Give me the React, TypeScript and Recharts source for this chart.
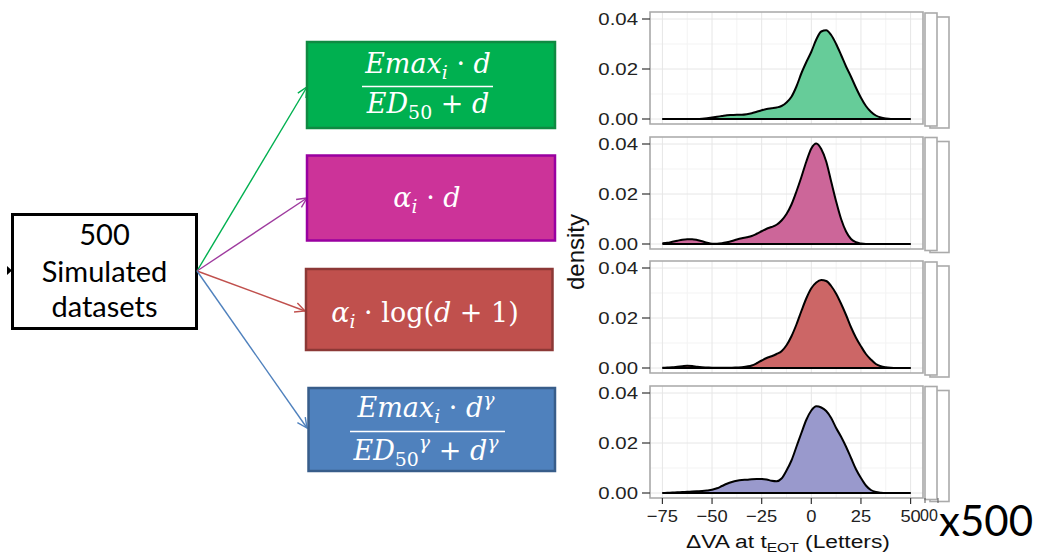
import React from 'react'
import { AreaChart, Area, XAxis, YAxis, CartesianGrid, ReferenceLine, ReferenceArea } from 'recharts'

// ΔVA at end of treatment (letters), density grid
const letters = [
  -75, -72.5, -70, -67.5, -65, -62.5, -60, -57.5, -55, -52.5, -50, -47.5, -45, -42.5, -40, -37.5, -35,
  -32.5, -30, -27.5, -25, -22.5, -20, -17.5, -15, -12.5, -10, -7.5, -5, -2.5, 0, 2.5, 5, 7.5, 10, 12.5,
  15, 17.5, 20, 22.5, 25, 27.5, 30, 32.5, 35, 37.5, 40, 42.5, 45, 47.5, 50,
]

const emaxDensity = [
  0, 0, 0, 0, 0, 0, 0, 0, 0.0001, 0.0003, 0.0006, 0.0009, 0.0012, 0.0015, 0.0016, 0.0017, 0.0017,
  0.0019, 0.0023, 0.0029, 0.0035, 0.004, 0.0043, 0.0046, 0.0052, 0.0066, 0.0089, 0.013, 0.0183, 0.0228,
  0.0269, 0.0318, 0.035, 0.0355, 0.0336, 0.03, 0.0256, 0.021, 0.0169, 0.0125, 0.0085, 0.0052, 0.0029,
  0.0014, 0.0006, 0.0002, 0, 0, 0, 0, 0,
]

const linearDensity = [
  0.0003, 0.0005, 0.0009, 0.0013, 0.0017, 0.0019, 0.0019, 0.0016, 0.0011, 0.0005, 0.0001, 0.0001, 0.0003,
  0.0007, 0.0012, 0.0018, 0.0023, 0.0027, 0.0032, 0.0041, 0.0051, 0.0061, 0.0068, 0.0077, 0.0094, 0.012,
  0.0158, 0.021, 0.0268, 0.033, 0.0382, 0.0402, 0.038, 0.033, 0.025, 0.017, 0.01, 0.005, 0.002, 0.0007,
  0.0002, 0, 0, 0, 0, 0, 0, 0, 0, 0, 0,
]

const logDensity = [
  0.0001, 0.0002, 0.0003, 0.0005, 0.0007, 0.0009, 0.0008, 0.0005, 0.0003, 0.0002, 0.0001, 0.0001, 0.0001,
  0.0001, 0.0001, 0.0002, 0.0003, 0.0006, 0.001, 0.0019, 0.003, 0.004, 0.0047, 0.0056, 0.0067, 0.0091,
  0.0127, 0.0174, 0.0228, 0.0279, 0.0319, 0.0342, 0.0352, 0.0348, 0.0328, 0.0297, 0.0257, 0.0212, 0.0163,
  0.0121, 0.0087, 0.0056, 0.0034, 0.0016, 0.0007, 0.0003, 0.0001, 0, 0, 0, 0,
]

const sigmoidDensity = [
  0, 0.0001, 0.0002, 0.0003, 0.0004, 0.0005, 0.0006, 0.0007, 0.0008, 0.001, 0.0013, 0.0019, 0.0028,
  0.0037, 0.0044, 0.0049, 0.0052, 0.0053, 0.0055, 0.0056, 0.0056, 0.0054, 0.0049, 0.0047, 0.0058, 0.009,
  0.013, 0.0185, 0.024, 0.0293, 0.033, 0.0347, 0.0342, 0.0328, 0.03, 0.026, 0.0225, 0.0185, 0.014,
  0.0095, 0.006, 0.003, 0.0012, 0.0004, 0.0001, 0, 0, 0, 0, 0, 0,
]

const xTicks = [-75, -50, -25, 0, 25, 50]
const xMinor = [-62.5, -37.5, -12.5, 12.5, 37.5]
const yTicks = [0, 0.02, 0.04]
const yMinor = [0.01, 0.03]

const rows = letters.map((x, i) => ({
  x,
  emax: emaxDensity[i],
  linear: linearDensity[i],
  log: logDensity[i],
  sigmoid: sigmoidDensity[i],
}))

const X_DOMAIN: [number, number] = [-81.25, 56.25]
const Y_DOMAIN: [number, number] = [-0.002, 0.0428]

const panels = [
  { key: 'emax', fill: '#66cc99', top: 12 },
  { key: 'linear', fill: '#cc6699', top: 136.5 },
  { key: 'log', fill: '#cc6666', top: 261 },
  { key: 'sigmoid', fill: '#9999cc', top: 385.5 },
]

const PANEL_H = 112
const PAD = 6
const AXIS_H = 32
const SANS = '"Liberation Sans", Arial, sans-serif'
const SERIF = '"DejaVu Serif", serif'

function YTick({ x, y, payload }: any) {
  return (
    <text transform={`translate(${x},${y}) scale(1.2,1)`} textAnchor="end" dy="0.36em"
      fontFamily={SANS} fontSize={17} fill="#222">
      {payload.value.toFixed(2)}
    </text>
  )
}

function XTick({ x, y, payload }: any) {
  const v = payload.value
  const label = v < 0 ? '\u2212' + Math.abs(v) : String(v)
  return (
    <text transform={`translate(${x},${y}) scale(1.08,1)`} textAnchor="middle" dy="0.71em"
      fontFamily={SANS} fontSize={17} fill="#222">
      {label}
    </text>
  )
}

function DensityPanel({ dataKey, fill, top, showAxis }: { dataKey: string; fill: string; top: number; showAxis: boolean }) {
  const height = PAD + PANEL_H + (showAxis ? AXIS_H : PAD)
  return (
    <div style={{ position: 'absolute', left: 580, top: top - PAD }}>
      <AreaChart width={345} height={height} data={rows}
        margin={{ top: PAD, right: 2, bottom: showAxis ? 0 : PAD, left: 0 }}>
        <CartesianGrid stroke="#f3f3f3" strokeWidth={1} verticalValues={xMinor} horizontalValues={yMinor} />
        <CartesianGrid stroke="#e6e6e6" strokeWidth={1} verticalValues={xTicks} horizontalValues={yTicks} />
        <XAxis type="number" dataKey="x" domain={X_DOMAIN} ticks={xTicks} hide={!showAxis} height={AXIS_H}
          axisLine={false} tickLine={{ stroke: '#333', strokeWidth: 1.2 }} tickSize={6} tickMargin={6}
          tick={<XTick />} allowDataOverflow />
        <YAxis type="number" domain={Y_DOMAIN} ticks={yTicks} width={70} axisLine={false}
          tickLine={{ stroke: '#333', strokeWidth: 1.2 }} tickSize={8} tickMargin={4} tick={<YTick />}
          allowDataOverflow />
        <Area type="monotone" dataKey={dataKey} baseValue={0} fill={fill} fillOpacity={1} stroke="#000"
          strokeWidth={2} dot={false} activeDot={false} isAnimationActive={false} />
        <ReferenceLine segment={[{ x: -75, y: 0 }, { x: 50, y: 0 }]} stroke="#000" strokeWidth={2} />
        <ReferenceArea x1={X_DOMAIN[0]} x2={X_DOMAIN[1]} y1={Y_DOMAIN[0]} y2={Y_DOMAIN[1]} fill="none"
          fillOpacity={0} stroke="#a8a8a8" strokeWidth={1.6} />
      </AreaChart>
    </div>
  )
}

type Run = { t: string; it?: boolean; pos?: 'sub' | 'sup' }

// formula text: runs shifted for sub/superscripts
function Formula({ x, y, runs, size = 27 }: { x: number; y: number; runs: Run[]; size?: number }) {
  let cur = 0
  return (
    <text x={x} y={y} textAnchor="middle" fontFamily={SERIF} fontSize={size} fill="#fff"
      style={{ whiteSpace: 'pre' }}>
      {runs.map((r, i) => {
        const target = r.pos === 'sub' ? 6 : r.pos === 'sup' ? -11 : 0
        const dy = target - cur
        cur = target
        return (
          <tspan key={i} dy={dy} fontStyle={r.it ? 'italic' : 'normal'} fontSize={r.pos ? size * 0.7 : size}>
            {r.t}
          </tspan>
        )
      })}
    </text>
  )
}

function Arrow({ from, to, color }: { from: [number, number]; to: [number, number]; color: string }) {
  const [x1, y1] = from
  const [x2, y2] = to
  const a = Math.atan2(y2 - y1, x2 - x1)
  const L = 11
  const s = 0.45
  const p1 = [x2 - L * Math.cos(a - s), y2 - L * Math.sin(a - s)]
  const p2 = [x2 - L * Math.cos(a + s), y2 - L * Math.sin(a + s)]
  return (
    <g stroke={color} strokeWidth={1.4} fill="none">
      <line x1={x1} y1={y1} x2={x2} y2={y2} />
      <polyline points={`${p1[0]},${p1[1]} ${x2},${y2} ${p2[0]},${p2[1]}`} />
    </g>
  )
}

function Diagram() {
  const origin: [number, number] = [197, 271]
  return (
    <svg width={1038} height={555} style={{ position: 'absolute', left: 0, top: 0 }}>
      <rect width={1038} height={555} fill="#fff" />

      {/* source box */}
      <polygon points="7,266 12,270.5 7,275" fill="#000" />
      <rect x={12.5} y={214.5} width={184} height={114} fill="#fff" stroke="#000" strokeWidth={3} />
      <g fontFamily='Lato, "Open Sans", sans-serif' fontSize={29} textAnchor="middle" fill="#000">
        <text x={104.5} y={245}>500</text>
        <text x={104.5} y={282}>Simulated</text>
        <text x={104.5} y={317}>datasets</text>
      </g>

      <Arrow from={origin} to={[307, 87]} color="#00b050" />
      <Arrow from={origin} to={[307, 198]} color="#9e3a9e" />
      <Arrow from={origin} to={[305, 311]} color="#c0504d" />
      <Arrow from={origin} to={[307, 428]} color="#4f81bd" />

      {/* model boxes */}
      <rect x={307} y={42} width={248} height={86} fill="#00b050" stroke="#0f8a42" strokeWidth={2.5} />
      <rect x={307} y={155.5} width={248} height={85} fill="#cc3399" stroke="#9900a0" strokeWidth={2.5} />
      <rect x={306} y={269} width={246.5} height={81} fill="#c0504d" stroke="#8c3836" strokeWidth={2.5} />
      <rect x={308.5} y={388} width={246.5} height={83} fill="#4f81bd" stroke="#385d8a" strokeWidth={2.5} />

      <Formula x={428} y={73} runs={[{ t: 'Emax', it: true }, { t: 'i', it: true, pos: 'sub' }, { t: ' · ' }, { t: 'd', it: true }]} />
      <line x1={362} x2={493} y1={86.5} y2={86.5} stroke="#fff" strokeWidth={1.6} />
      <Formula x={428} y={113} runs={[{ t: 'ED', it: true }, { t: '50', pos: 'sub' }, { t: ' + ' }, { t: 'd', it: true }]} />

      <Formula x={427} y={207} runs={[{ t: 'α', it: true }, { t: 'i', it: true, pos: 'sub' }, { t: ' · ' }, { t: 'd', it: true }]} />

      <Formula x={425} y={322} runs={[{ t: 'α', it: true }, { t: 'i', it: true, pos: 'sub' }, { t: ' · log(' }, { t: 'd', it: true }, { t: ' + 1)' }]} />

      <Formula x={426} y={417} runs={[{ t: 'Emax', it: true }, { t: 'i', it: true, pos: 'sub' }, { t: ' · ' }, { t: 'd', it: true }, { t: 'γ', it: true, pos: 'sup' }]} />
      <line x1={350} x2={505} y1={431.5} y2={431.5} stroke="#fff" strokeWidth={1.6} />
      <Formula x={426} y={460} runs={[{ t: 'ED', it: true }, { t: '50', pos: 'sub' }, { t: 'γ', it: true, pos: 'sup' }, { t: ' + ' }, { t: 'd', it: true }, { t: 'γ', it: true, pos: 'sup' }]} />

      {/* stacked copies behind each facet */}
      {panels.map((p) => (
        <g key={p.key} fill="#fff" stroke="#aaaaaa" strokeWidth={1.6}>
          <rect x={930} y={p.top + 5} width={19} height={PANEL_H - 1} />
          <rect x={925} y={p.top + 1} width={12} height={PANEL_H + 1} />
        </g>
      ))}
      <g stroke="#555" strokeWidth={1}>
        <line x1={925} x2={925} y1={498} y2={503} />
        <line x1={938} x2={938} y1={498} y2={503} />
      </g>
      <g fontFamily={SANS} fontSize={16} fill="#222">
        <text x={920} y={521}>0</text>
        <text x={929} y={521}>0</text>
      </g>

      <text transform="translate(584,252) rotate(-90)" textAnchor="middle" fontFamily={SANS} fontSize={24} fill="#111">
        density
      </text>

      <text x={788} y={548} textAnchor="middle" fontFamily={SANS} fontSize={19} fill="#111"
        transform="translate(788,0) scale(1.2,1) translate(-788,0)" style={{ whiteSpace: 'pre' }}>
        <tspan>ΔVA at t</tspan>
        <tspan fontSize={13} dy={4}>EOT</tspan>
        <tspan dy={-4}> (Letters)</tspan>
      </text>
    </svg>
  )
}

export default function App() {
  return (
    <div style={{ position: 'absolute', left: 0, top: 0, width: 1038, height: 555, background: '#fff' }}>
      <Diagram />
      {panels.map((p, i) => (
        <DensityPanel key={p.key} dataKey={p.key} fill={p.fill} top={p.top} showAxis={i === panels.length - 1} />
      ))}
      <div style={{ position: 'absolute', left: 939, top: 495, fontFamily: 'Lato, sans-serif', fontSize: 42, lineHeight: '50px', color: '#000' }}>
        x500
      </div>
    </div>
  )
}
